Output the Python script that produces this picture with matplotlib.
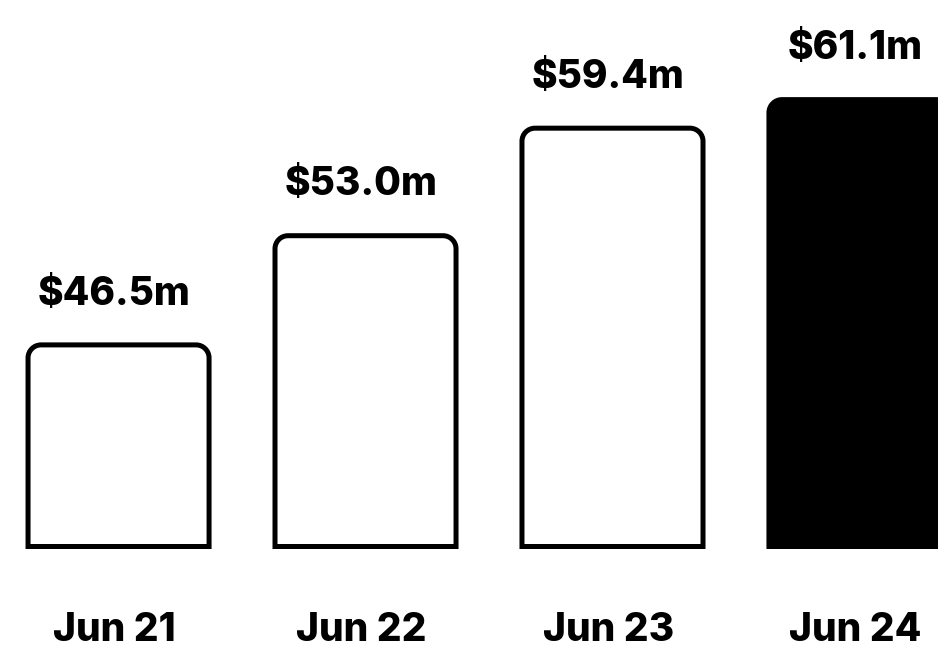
import matplotlib
matplotlib.use('Agg')
import matplotlib.pyplot as plt
from matplotlib.path import Path
from matplotlib.patches import PathPatch

plt.rcParams['font.family'] = ['Inter', 'DejaVu Sans']

# data
periods = ['Jun 21', 'Jun 22', 'Jun 23', 'Jun 24']
revenue = [46.5, 53.0, 59.4, 61.1]
labels = ['$46.5m', '$53.0m', '$59.4m', '$61.1m']
highlight = [False, False, False, True]

BASE = 34.5      # value axis does not start at zero
BAR_W = 0.733
RADIUS_PX = 13


def rounded_top_bar(x0, x1, y0, y1, rx, ry):
    k = 0.5523
    verts = [
        (x0, y0),
        (x0, y1 - ry),
        (x0, y1 - ry + k * ry), (x0 + rx - k * rx, y1), (x0 + rx, y1),
        (x1 - rx, y1),
        (x1 - rx + k * rx, y1), (x1, y1 - ry + k * ry), (x1, y1 - ry),
        (x1, y0),
        (x0, y0),
    ]
    codes = [Path.MOVETO, Path.LINETO,
             Path.CURVE4, Path.CURVE4, Path.CURVE4,
             Path.LINETO,
             Path.CURVE4, Path.CURVE4, Path.CURVE4,
             Path.LINETO, Path.CLOSEPOLY]
    return Path(verts, codes)


fig = plt.figure(figsize=(9.38, 6.52), dpi=100)
ax = fig.add_axes([0, 105.5 / 652, 1, 546.5 / 652])
ax.set_xlim(-0.48, 3.318)
ax.set_ylim(BASE, BASE + 546.5 / 16.8)
ax.axis('off')

# pixels per data unit, for the corner radius
p0 = ax.transData.transform((0, BASE))
p1 = ax.transData.transform((1, BASE + 1))
rx = RADIUS_PX / (p1[0] - p0[0])
ry = RADIUS_PX / (p1[1] - p0[1])

for i, v in enumerate(revenue):
    x0, x1 = i - BAR_W / 2, i + BAR_W / 2
    face = 'black' if highlight[i] else 'white'
    patch = PathPatch(rounded_top_bar(x0, x1, BASE, v, rx, ry),
                      facecolor=face, edgecolor='black', linewidth=3.6,
                      joinstyle='miter', clip_on=False)
    ax.add_patch(patch)
    ax.annotate(labels[i], xy=(i, v), xytext=(-3, 29), textcoords='offset points',
                ha='center', va='baseline', fontsize=28, fontweight='heavy')

for i, p in enumerate(periods):
    ax.annotate(p, xy=(i, BASE), xytext=(-3, -68), textcoords='offset points',
                ha='center', va='baseline', fontsize=28, fontweight='heavy')

fig.savefig('out.png', dpi=100)
